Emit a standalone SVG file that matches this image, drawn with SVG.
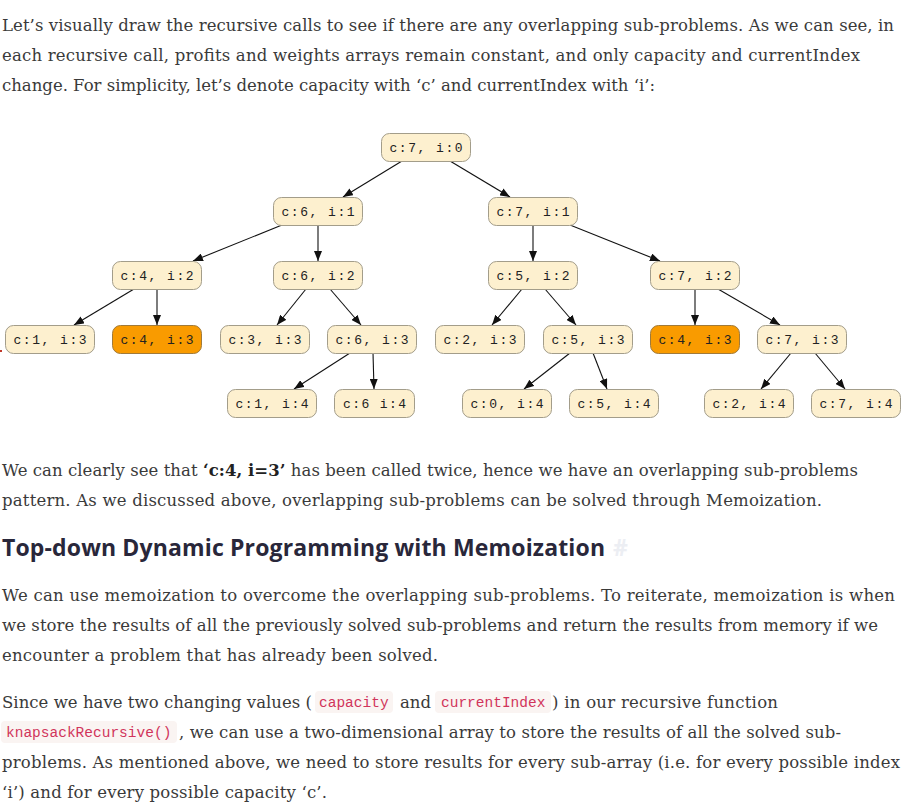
<svg xmlns="http://www.w3.org/2000/svg" width="902" height="809" viewBox="0 0 902 809">
<style>
.body{font-family:"DejaVu Serif","Liberation Serif",serif;font-size:16.5px;fill:#3a3a3a}
.nd rect{fill:#fdf0cf;stroke:#a39d8a;stroke-width:1}
.nd.hot rect{fill:#f99b00;stroke:#a07a3a}
.nd text{font-family:"Liberation Mono","DejaVu Sans Mono",monospace;font-size:13px;fill:#222;text-anchor:middle}
.edges line{stroke:#111;stroke-width:1.1}
.code rect{fill:#faf4f2}
.code text{font-family:"Liberation Mono","DejaVu Sans Mono",monospace;font-size:14.5px;fill:#d1345b}
.h{font-family:"Open Sans","Lato",sans-serif;font-weight:700;font-size:23px;fill:#29273a}
</style>
<defs>
<marker id="ar" markerUnits="userSpaceOnUse" markerWidth="11" markerHeight="8" refX="10" refY="4" orient="auto">
<path d="M0,0 L10,4 L0,8 z" fill="#111"/>
</marker>
</defs>
<rect width="902" height="809" fill="#fff"/>

<g id="para1">
<text class="body" x="2" y="31" textLength="892" lengthAdjust="spacing">Let’s visually draw the recursive calls to see if there are any overlapping sub-problems. As we can see, in</text>
<text class="body" x="2" y="61" textLength="858" lengthAdjust="spacing">each recursive call, profits and weights arrays remain constant, and only capacity and currentIndex</text>
<text class="body" x="2" y="91" textLength="653" lengthAdjust="spacing">change. For simplicity, let’s denote capacity with ‘c’ and currentIndex with ‘i’:</text>
</g>

<g class="edges" id="connectors" marker-end="url(#ar)">
<line x1="402" y1="161" x2="343" y2="197" marker-end="url(#ar)"/>
<line x1="450" y1="161" x2="510" y2="197" marker-end="url(#ar)"/>
<line x1="282" y1="225" x2="193" y2="261" marker-end="url(#ar)"/>
<line x1="318" y1="225" x2="318" y2="261" marker-end="url(#ar)"/>
<line x1="533" y1="225" x2="533" y2="261" marker-end="url(#ar)"/>
<line x1="570" y1="225" x2="660" y2="261" marker-end="url(#ar)"/>
<line x1="134" y1="289" x2="74" y2="325" marker-end="url(#ar)"/>
<line x1="157" y1="289" x2="157" y2="325" marker-end="url(#ar)"/>
<line x1="306" y1="289" x2="277" y2="325" marker-end="url(#ar)"/>
<line x1="330" y1="289" x2="361" y2="325" marker-end="url(#ar)"/>
<line x1="522" y1="289" x2="492" y2="325" marker-end="url(#ar)"/>
<line x1="545" y1="289" x2="576" y2="325" marker-end="url(#ar)"/>
<line x1="695" y1="289" x2="695" y2="325" marker-end="url(#ar)"/>
<line x1="718" y1="289" x2="780" y2="325" marker-end="url(#ar)"/>
<line x1="350" y1="353" x2="294" y2="389" marker-end="url(#ar)"/>
<line x1="373" y1="353" x2="374" y2="389" marker-end="url(#ar)"/>
<line x1="570" y1="353" x2="524" y2="389" marker-end="url(#ar)"/>
<line x1="593" y1="353" x2="607" y2="389" marker-end="url(#ar)"/>
<line x1="791" y1="353" x2="761" y2="389" marker-end="url(#ar)"/>
<line x1="815" y1="353" x2="845" y2="389" marker-end="url(#ar)"/>
</g>

<g id="n0" class="nd"><rect x="381.5" y="133.5" width="89" height="28" rx="8"/><text x="426" y="152" textLength="73" lengthAdjust="spacing">c:7, i:0</text></g>
<g id="n1" class="nd"><rect x="273.5" y="197.5" width="89" height="28" rx="8"/><text x="318" y="216" textLength="73" lengthAdjust="spacing">c:6, i:1</text></g>
<g id="n2" class="nd"><rect x="488.5" y="197.5" width="89" height="28" rx="8"/><text x="533" y="216" textLength="73" lengthAdjust="spacing">c:7, i:1</text></g>
<g id="n3" class="nd"><rect x="112.5" y="261.5" width="89" height="28" rx="8"/><text x="157" y="280" textLength="73" lengthAdjust="spacing">c:4, i:2</text></g>
<g id="n4" class="nd"><rect x="273.5" y="261.5" width="89" height="28" rx="8"/><text x="318" y="280" textLength="73" lengthAdjust="spacing">c:6, i:2</text></g>
<g id="n5" class="nd"><rect x="488.5" y="261.5" width="89" height="28" rx="8"/><text x="533" y="280" textLength="73" lengthAdjust="spacing">c:5, i:2</text></g>
<g id="n6" class="nd"><rect x="650.5" y="261.5" width="89" height="28" rx="8"/><text x="695" y="280" textLength="73" lengthAdjust="spacing">c:7, i:2</text></g>
<g id="n7" class="nd"><rect x="5.5" y="325.5" width="89" height="28" rx="8"/><text x="50" y="344" textLength="73" lengthAdjust="spacing">c:1, i:3</text></g>
<g id="n8" class="nd hot"><rect x="112.5" y="325.5" width="89" height="28" rx="8"/><text x="157" y="344" textLength="73" lengthAdjust="spacing">c:4, i:3</text></g>
<g id="n9" class="nd"><rect x="220.5" y="325.5" width="89" height="28" rx="8"/><text x="265" y="344" textLength="73" lengthAdjust="spacing">c:3, i:3</text></g>
<g id="n10" class="nd"><rect x="327.5" y="325.5" width="89" height="28" rx="8"/><text x="372" y="344" textLength="73" lengthAdjust="spacing">c:6, i:3</text></g>
<g id="n11" class="nd"><rect x="435.5" y="325.5" width="89" height="28" rx="8"/><text x="480" y="344" textLength="73" lengthAdjust="spacing">c:2, i:3</text></g>
<g id="n12" class="nd"><rect x="543.5" y="325.5" width="89" height="28" rx="8"/><text x="588" y="344" textLength="73" lengthAdjust="spacing">c:5, i:3</text></g>
<g id="n13" class="nd hot"><rect x="650.5" y="325.5" width="89" height="28" rx="8"/><text x="695" y="344" textLength="73" lengthAdjust="spacing">c:4, i:3</text></g>
<g id="n14" class="nd"><rect x="757.5" y="325.5" width="89" height="28" rx="8"/><text x="802" y="344" textLength="73" lengthAdjust="spacing">c:7, i:3</text></g>
<g id="n15" class="nd"><rect x="227.5" y="389.5" width="89" height="28" rx="8"/><text x="272" y="408" textLength="73" lengthAdjust="spacing">c:1, i:4</text></g>
<g id="n16" class="nd"><rect x="334.5" y="389.5" width="80" height="28" rx="8"/><text x="374.5" y="408" textLength="63" lengthAdjust="spacing">c:6 i:4</text></g>
<g id="n17" class="nd"><rect x="462.5" y="389.5" width="89" height="28" rx="8"/><text x="507" y="408" textLength="73" lengthAdjust="spacing">c:0, i:4</text></g>
<g id="n18" class="nd"><rect x="569.5" y="389.5" width="89" height="28" rx="8"/><text x="614" y="408" textLength="73" lengthAdjust="spacing">c:5, i:4</text></g>
<g id="n19" class="nd"><rect x="704.5" y="389.5" width="89" height="28" rx="8"/><text x="749" y="408" textLength="73" lengthAdjust="spacing">c:2, i:4</text></g>
<g id="n20" class="nd"><rect x="811.5" y="389.5" width="89" height="28" rx="8"/><text x="856" y="408" textLength="73" lengthAdjust="spacing">c:7, i:4</text></g>

<rect x="0" y="350" width="2" height="2" fill="#c0392b"/>

<g id="para2">
<text class="body" x="2" y="476" textLength="856" lengthAdjust="spacing">We can clearly see that <tspan font-weight="bold" fill="#222">‘c:4, i=3’</tspan> has been called twice, hence we have an overlapping sub-problems</text>
<text class="body" x="2" y="506" textLength="820" lengthAdjust="spacing">pattern. As we discussed above, overlapping sub-problems can be solved through Memoization.</text>
</g>

<g id="heading">
<text class="h" x="2" y="556" textLength="603" lengthAdjust="spacing">Top-down Dynamic Programming with Memoization</text>
<text class="h" x="613" y="556" fill="#eceef3" style="fill:#eceef3">#</text>
</g>

<g id="para3">
<text class="body" x="2" y="601" textLength="893" lengthAdjust="spacing">We can use memoization to overcome the overlapping sub-problems. To reiterate, memoization is when</text>
<text class="body" x="2" y="631" textLength="876" lengthAdjust="spacing">we store the results of all the previously solved sub-problems and return the results from memory if we</text>
<text class="body" x="2" y="661" textLength="436" lengthAdjust="spacing">encounter a problem that has already been solved.</text>
</g>

<g id="para4">
<text class="body" x="2" y="708" textLength="310" lengthAdjust="spacing">Since we have two changing values (</text>
<g class="code"><rect x="315" y="691" width="78" height="22" rx="4"/><text x="319" y="707">capacity</text></g>
<text class="body" x="400" y="708" textLength="31" lengthAdjust="spacing">and</text>
<g class="code"><rect x="435" y="691" width="116" height="22" rx="4"/><text x="441" y="707">currentIndex</text></g>
<text class="body" x="552" y="708" textLength="226" lengthAdjust="spacing">) in our recursive function</text>
<g class="code"><rect x="1" y="721" width="176" height="22" rx="4"/><text x="6" y="737">knapsackRecursive()</text></g>
<text class="body" x="179" y="738" textLength="662" lengthAdjust="spacing">, we can use a two-dimensional array to store the results of all the solved sub-</text>
<text class="body" x="2" y="768" textLength="898" lengthAdjust="spacing">problems. As mentioned above, we need to store results for every sub-array (i.e. for every possible index</text>
<text class="body" x="2" y="798" textLength="325" lengthAdjust="spacing">‘i’) and for every possible capacity ‘c’.</text>
</g>
</svg>
